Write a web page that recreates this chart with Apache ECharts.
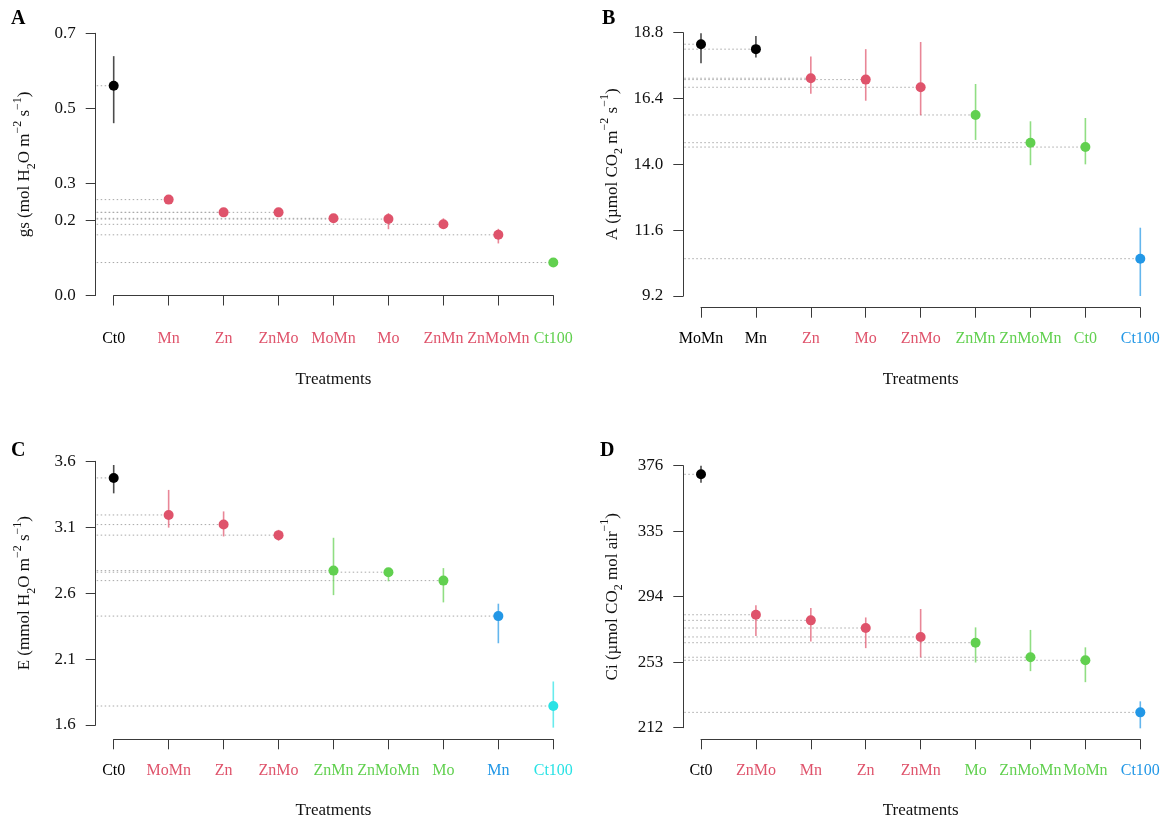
<!DOCTYPE html>
<html>
<head>
<meta charset="utf-8">
<script src="https://cdn.jsdelivr.net/npm/echarts@6/dist/echarts.min.js"></script>
<style>
html,body{margin:0;padding:0;background:#fff;}
#chart{width:1171px;height:826px;}
</style>
</head>
<body>
<div id="chart"></div>
<script>
// ---------- DATA ----------
// Panel A: gs (mol H2O m-2 s-1)
const catsA = ['Ct0','Mn','Zn','ZnMo','MoMn','Mo','ZnMn','ZnMoMn','Ct100'];
const meanA = [0.560, 0.256, 0.222, 0.222, 0.206, 0.204, 0.190, 0.162, 0.088];
const lowA  = [0.460, 0.249, 0.216, 0.215, 0.193, 0.177, 0.178, 0.139, 0.084];
const highA = [0.639, 0.263, 0.228, 0.229, 0.217, 0.220, 0.206, 0.178, 0.092];
const groupA = [0,1,1,1,1,1,1,1,2];
const ticksA = [0.0, 0.2, 0.3, 0.5, 0.7];

// Panel B: A (umol CO2 m-2 s-1)
const catsB = ['MoMn','Mn','Zn','Mo','ZnMo','ZnMn','ZnMoMn','Ct0','Ct100'];
const meanB = [18.38, 18.20, 17.14, 17.09, 16.81, 15.80, 14.79, 14.63, 10.56];
const lowB  = [17.69, 17.90, 16.57, 16.32, 15.79, 14.89, 13.97, 14.00, 9.20];
const highB = [18.78, 18.68, 17.93, 18.20, 18.46, 16.93, 15.57, 15.69, 11.69];
const groupB = [0,0,1,1,1,2,2,2,3];
const ticksB = [9.2, 11.6, 14.0, 16.4, 18.8];

// Panel C: E (mmol H2O m-2 s-1)
const catsC = ['Ct0','MoMn','Zn','ZnMo','ZnMn','ZnMoMn','Mo','Mn','Ct100'];
const meanC = [3.474, 3.193, 3.120, 3.040, 2.771, 2.759, 2.695, 2.426, 1.744];
const lowC  = [3.357, 3.097, 3.030, 2.998, 2.585, 2.690, 2.530, 2.220, 1.580];
const highC = [3.572, 3.383, 3.220, 3.080, 3.020, 2.790, 2.790, 2.520, 1.930];
const groupC = [0,1,1,1,2,2,2,3,4];
const ticksC = [1.6, 2.1, 2.6, 3.1, 3.6];

// Panel D: Ci (umol CO2 mol air-1)
const catsD = ['Ct0','ZnMo','Mn','Zn','ZnMn','Mo','ZnMoMn','MoMn','Ct100'];
const meanD = [370.6, 282.7, 279.2, 274.4, 268.8, 265.2, 256.1, 254.2, 221.6];
const lowD  = [365.4, 269.4, 266.0, 261.8, 256.0, 252.8, 247.4, 240.5, 211.6];
const highD = [376.0, 288.6, 287.0, 281.0, 286.3, 274.8, 273.2, 262.3, 228.5];
const groupD = [0,1,1,1,1,2,2,2,3];
const ticksD = [212, 253, 294, 335, 376];

const palette = ['#000000', '#DF536B', '#61D04F', '#2297E6', '#28E2E5'];

// ---------- STYLE / LAYOUT ----------
const FONT = 'Liberation Serif';
const FS = 17;
const CAT_FS = 16;
const AXIS_COLOR = '#3a3a3a';

const panels = [
  {letter:'A', lx:11, ly:19, cats:catsA, mean:meanA, low:lowA, high:highA, group:groupA, ticks:ticksA, dec:1,
   grid:{left:113.7, top:33.3, width:439.6, height:262.2}, yOff:18, xOff:12.2,
   name:'{n|gs (mol H}{sb|2}{n|O m}{sp|−2}{n| s}{sp|−1}{n|)}'},
  {letter:'B', lx:602, ly:19, cats:catsB, mean:meanB, low:lowB, high:highB, group:groupB, ticks:ticksB, dec:1,
   grid:{left:701, top:32.7, width:439.3, height:263.3}, yOff:17.7, xOff:11.7,
   name:'{n|A (µmol CO}{sb|2}{n| m}{sp|−2}{n| s}{sp|−1}{n|)}'},
  {letter:'C', lx:11, ly:451, cats:catsC, mean:meanC, low:lowC, high:highC, group:groupC, ticks:ticksC, dec:1,
   grid:{left:113.7, top:461.3, width:439.6, height:263.7}, yOff:18, xOff:14.3,
   name:'{n|E (mmol H}{sb|2}{n|O m}{sp|−2}{n| s}{sp|−1}{n|)}'},
  {letter:'D', lx:600, ly:451, cats:catsD, mean:meanD, low:lowD, high:highD, group:groupD, ticks:ticksD, dec:0,
   grid:{left:701, top:465.7, width:439.3, height:262}, yOff:17.7, xOff:11.6,
   name:'{n|Ci (µmol CO}{sb|2}{n| mol air}{sp|−1}{n|)}'}
];

const labelRich = {};
palette.forEach((c, i) => { labelRich['g' + i] = {color: c, fontFamily: FONT, fontSize: CAT_FS}; });

const nameRich = {
  n: {fontFamily: FONT, fontSize: FS, color: '#111', lineHeight: 26},
  sp: {fontFamily: FONT, fontSize: 12, color: '#111', lineHeight: 13, verticalAlign: 'top'},
  sb: {fontFamily: FONT, fontSize: 12, color: '#111', lineHeight: 16, verticalAlign: 'bottom'}
};

const grids = [], xAxes = [], yAxes = [], series = [], graphics = [];

panels.forEach((p, k) => {
  grids.push(Object.assign({containLabel: false}, p.grid));
  const grp = p.group;
  xAxes.push({
    type: 'category', gridIndex: k, data: p.cats, boundaryGap: false, position: 'bottom', offset: p.xOff,
    axisLine: {show: true, lineStyle: {color: AXIS_COLOR, width: 1}},
    axisTick: {show: true, length: 10, lineStyle: {color: AXIS_COLOR, width: 1}},
    axisLabel: {margin: 23, interval: 0, rich: labelRich,
      formatter: (v, i) => '{g' + grp[i] + '|' + v + '}'},
    splitLine: {show: false},
    name: 'Treatments', nameLocation: 'middle', nameGap: 63,
    nameTextStyle: {fontFamily: FONT, fontSize: FS, color: '#111'}
  });
  const dec = p.dec;
  yAxes.push({
    type: 'value', gridIndex: k, min: p.ticks[0], max: p.ticks[p.ticks.length - 1], offset: p.yOff,
    axisLine: {show: true, lineStyle: {color: AXIS_COLOR, width: 1}},
    axisTick: {show: true, length: 10, customValues: p.ticks, lineStyle: {color: AXIS_COLOR, width: 1}},
    axisLabel: {margin: 20, customValues: p.ticks, fontFamily: FONT, fontSize: FS, color: '#111',
      formatter: v => Number(v).toFixed(dec)},
    splitLine: {show: false},
    name: p.name, nameLocation: 'middle', nameGap: 58, nameRotate: 90,
    nameTextStyle: {rich: nameRich, fontFamily: FONT, fontSize: FS, color: '#111'}
  });

  const rows = p.mean.map((m, i) => [i, m, p.low[i], p.high[i], grp[i]]);
  const yOff = p.yOff;

  // dotted reference lines from y axis to the point
  series.push({
    type: 'custom', xAxisIndex: k, yAxisIndex: k, data: rows, z: 1, silent: true,
    encode: {x: 0, y: 1},
    renderItem: (params, api) => {
      const pt = api.coord([api.value(0), api.value(1)]);
      const x0 = params.coordSys.x - yOff + 1;
      return {type: 'line', shape: {x1: x0, y1: pt[1], x2: pt[0], y2: pt[1]},
        style: {stroke: '#a8a8a8', lineWidth: 1, lineDash: [1.5, 2.5]}};
    }
  });
  // error bars
  series.push({
    type: 'custom', xAxisIndex: k, yAxisIndex: k, data: rows, z: 2, silent: true,
    encode: {x: 0, y: [2, 3]},
    renderItem: (params, api) => {
      const a = api.coord([api.value(0), api.value(2)]);
      const b = api.coord([api.value(0), api.value(3)]);
      return {type: 'line', shape: {x1: a[0], y1: a[1], x2: b[0], y2: b[1]},
        style: {stroke: palette[api.value(4)], lineWidth: 1.6, opacity: 0.7}};
    }
  });
  // points
  series.push({
    type: 'scatter', xAxisIndex: k, yAxisIndex: k, z: 3, silent: true,
    data: rows.map(r => [r[0], r[1]]),
    symbol: 'circle', symbolSize: 10,
    itemStyle: {opacity: 1, color: params => palette[grp[params.dataIndex]]}
  });

  graphics.push({
    type: 'text', left: p.lx, top: p.ly - 10,
    style: {text: p.letter, fontFamily: FONT, fontSize: 20, fontWeight: 'bold', fill: '#000'}
  });
});

const chart = echarts.init(document.getElementById('chart'), null, {renderer: 'canvas'});
chart.setOption({
  animation: false,
  backgroundColor: '#ffffff',
  grid: grids, xAxis: xAxes, yAxis: yAxes, series: series, graphic: graphics
});
</script>
</body>
</html>
